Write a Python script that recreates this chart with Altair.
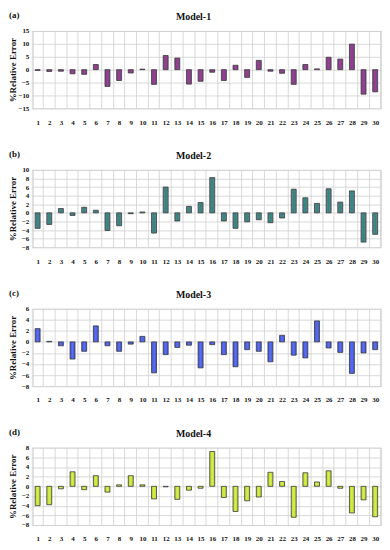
import altair as alt
import pandas as pd

cases = [str(i) for i in range(1, 31)]

model1 = [-0.3, -0.7, -0.6, -1.6, -1.8, 2.0, -6.5, -4.2, -1.3, 0.2,
          -5.7, 5.5, 4.5, -5.6, -4.5, -1.0, -4.2, 1.7, -3.0, 3.6,
          -0.6, -1.4, -5.7, 2.0, 0.3, 4.8, 4.1, 9.9, -9.5, -8.6]
model2 = [-3.6, -2.7, 1.0, -0.6, 1.3, 0.6, -4.1, -3.0, -0.2, 0.2,
          -4.7, 6.0, -1.9, 1.5, 2.4, 8.2, -1.9, -3.6, -2.1, -1.6,
          -2.3, -1.2, 5.5, 3.5, 2.2, 5.6, 2.5, 5.1, -6.8, -5.0]
model3 = [2.4, 0.1, -0.7, -3.1, -1.7, 2.9, -0.7, -1.7, -0.4, 1.0,
          -5.6, -2.3, -1.0, -0.6, -4.7, -0.5, -2.3, -4.5, -1.4, -1.7,
          -3.6, 1.2, -2.4, -2.9, 3.8, -1.1, -1.9, -5.7, -2.0, -1.4]
model4 = [-4.0, -3.8, -0.5, 3.0, -0.7, 2.2, -1.2, 0.3, 2.2, 0.3,
          -2.6, -0.1, -2.7, -0.8, -0.4, 7.2, -2.3, -5.2, -3.0, -2.2,
          2.9, 1.0, -6.4, 2.8, 0.9, 3.2, -0.4, -5.5, -2.8, -6.3]

titles = ["Model-1", "Model-2", "Model-3", "Model-4"]
tags = ["(a)", "(b)", "(c)", "(d)"]
domains = [[-15, 15], [-8, 10], [-8, 6], [-8, 8]]
steps = [5, 2, 2, 2]
edge_colors = ["#6e4a8e", "#6a7f98", "#3f52d6", "#b7d332"]
mid_colors = ["#a23a8d", "#2a8a7a", "#5b6ff2", "#d6f04c"]

FONT = "Liberation Serif"
W = 352
H = 78


def panel(vals, title, tag, dom, step, c_edge, c_mid):
    df = pd.DataFrame({"case": cases, "err": vals})
    ticks = list(range(dom[0], dom[1] + 1, step))
    grad = alt.Gradient(
        gradient="linear",
        stops=[alt.GradientStop(color=c_edge, offset=0),
               alt.GradientStop(color=c_mid, offset=0.5),
               alt.GradientStop(color=c_edge, offset=1)],
        x1=0, x2=1, y1=0, y2=0,
    )
    bars = alt.Chart(df).mark_bar(
        size=5, color=grad, stroke="#3a3a3a", strokeWidth=0.8
    ).encode(
        x=alt.X("case:O", sort=cases, title=None,
                axis=alt.Axis(labelAngle=0, tickBand="extent", grid=True,
                              gridColor="#cfcfcf", gridWidth=0.8,
                              ticks=False, domain=False, labelPadding=10,
                              labelFont=FONT, labelFontSize=7,
                              labelFontWeight="bold", labelColor="#111")),
        y=alt.Y("err:Q", title="%Relative Error",
                scale=alt.Scale(domain=dom, nice=False, zero=False),
                axis=alt.Axis(values=ticks, grid=True, gridColor="#cfcfcf",
                              gridWidth=0.8, ticks=False, domain=False,
                              labelPadding=3, labelFont=FONT, labelFontSize=7,
                              labelFontWeight="bold", labelColor="#111",
                              titleFont=FONT, titleFontSize=9,
                              titleFontWeight="bold", titleColor="#111",
                              titlePadding=2, minExtent=12, maxExtent=12)),
    )
    tag_mark = alt.Chart(pd.DataFrame({"t": [tag]})).mark_text(
        font=FONT, fontSize=9, fontWeight="bold", align="left",
        baseline="middle", color="#111"
    ).encode(text="t:N", x=alt.value(-23), y=alt.value(-16))
    title_mark = alt.Chart(pd.DataFrame({"t": [title]})).mark_text(
        font=FONT, fontSize=10, fontWeight="bold", align="center",
        baseline="middle", color="#111"
    ).encode(text="t:N", x=alt.value(W / 2 - 13), y=alt.value(-14))
    return alt.layer(bars, tag_mark, title_mark).properties(width=W, height=H)


charts = [panel(v, t, g, d, s, ce, cm) for v, t, g, d, s, ce, cm in
          zip([model1, model2, model3, model4], titles, tags, domains, steps,
              edge_colors, mid_colors)]

chart = alt.vconcat(*charts, spacing=23).properties(
    padding={"left": 0, "top": 0, "right": 0, "bottom": 0}
).configure_view(stroke="#c8c8c8", strokeWidth=0.8).configure(background="white")

chart.save("out.html", embed_options={"renderer": "svg", "actions": False})
